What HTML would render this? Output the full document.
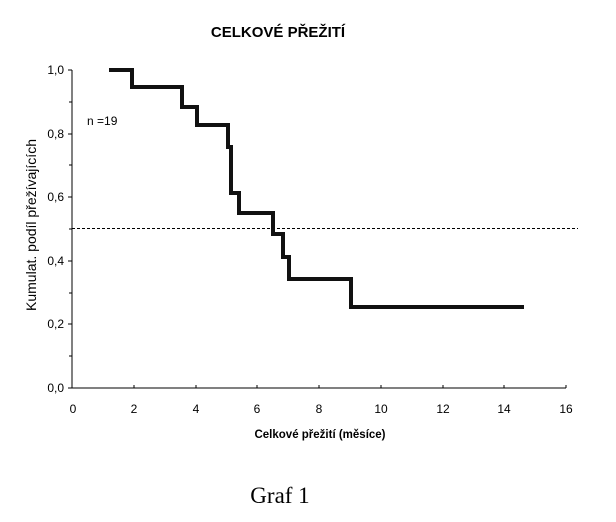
<!DOCTYPE html>
<html><head><meta charset="utf-8"><style>body{margin:0;background:#fff}</style></head><body>
<svg width="616" height="517" xmlns="http://www.w3.org/2000/svg" font-family="Liberation Sans, sans-serif">
<rect width="616" height="517" fill="#fff"/>
<text x="278" y="37" font-size="15" font-weight="bold" text-anchor="middle">CELKOVÉ PŘEŽITÍ</text>
<g stroke="#000" stroke-width="1">
<line x1="72" y1="70" x2="72" y2="388"/>
<line x1="72" y1="388" x2="566" y2="388"/>
<line x1="68" y1="70" x2="72" y2="70"/><line x1="69" y1="102" x2="72" y2="102"/>
<line x1="68" y1="134" x2="72" y2="134"/><line x1="69" y1="165" x2="72" y2="165"/>
<line x1="68" y1="197" x2="72" y2="197"/><line x1="69" y1="229" x2="72" y2="229"/>
<line x1="68" y1="261" x2="72" y2="261"/><line x1="69" y1="293" x2="72" y2="293"/>
<line x1="68" y1="324" x2="72" y2="324"/><line x1="69" y1="356" x2="72" y2="356"/>
<line x1="68" y1="388" x2="72" y2="388"/>
<line x1="134" y1="385" x2="134" y2="388"/><line x1="196" y1="385" x2="196" y2="388"/>
<line x1="257" y1="385" x2="257" y2="388"/><line x1="319" y1="385" x2="319" y2="388"/>
<line x1="381" y1="385" x2="381" y2="388"/><line x1="443" y1="385" x2="443" y2="388"/>
<line x1="504" y1="385" x2="504" y2="388"/><line x1="566" y1="385" x2="566" y2="388"/>
</g>
<line x1="72" y1="228.5" x2="578" y2="228.5" stroke="#000" stroke-width="1" stroke-dasharray="3,2"/>
<polyline fill="none" stroke="#111" stroke-width="4" points="109,70 132,70 132,87 182,87 182,107 197,107 197,125 228,125 228,147 231,147 231,193 239,193 239,213 273,213 273,234 283,234 283,257 289,257 289,279 351,279 351,307 524,307"/>
<g font-size="12" text-anchor="end">
<text x="64" y="74">1,0</text><text x="64" y="138">0,8</text><text x="64" y="201">0,6</text>
<text x="64" y="265">0,4</text><text x="64" y="328">0,2</text><text x="64" y="392">0,0</text>
</g>
<g font-size="12" text-anchor="middle">
<text x="73" y="413">0</text><text x="134" y="413">2</text><text x="196" y="413">4</text>
<text x="257" y="413">6</text><text x="319" y="413">8</text><text x="381" y="413">10</text>
<text x="443" y="413">12</text><text x="504" y="413">14</text><text x="566" y="413">16</text>
</g>
<text x="87" y="125" font-size="12">n =19</text>
<text x="0" y="0" font-size="14" text-anchor="middle" transform="translate(36,225) rotate(-90)">Kumulat. podíl přežívajících</text>
<text x="320" y="438" font-size="11.5" font-weight="bold" text-anchor="middle">Celkové přežití (měsíce)</text>
<text x="280" y="503" font-size="23" font-family="Liberation Serif, serif" text-anchor="middle">Graf 1</text>
</svg>
</body></html>
